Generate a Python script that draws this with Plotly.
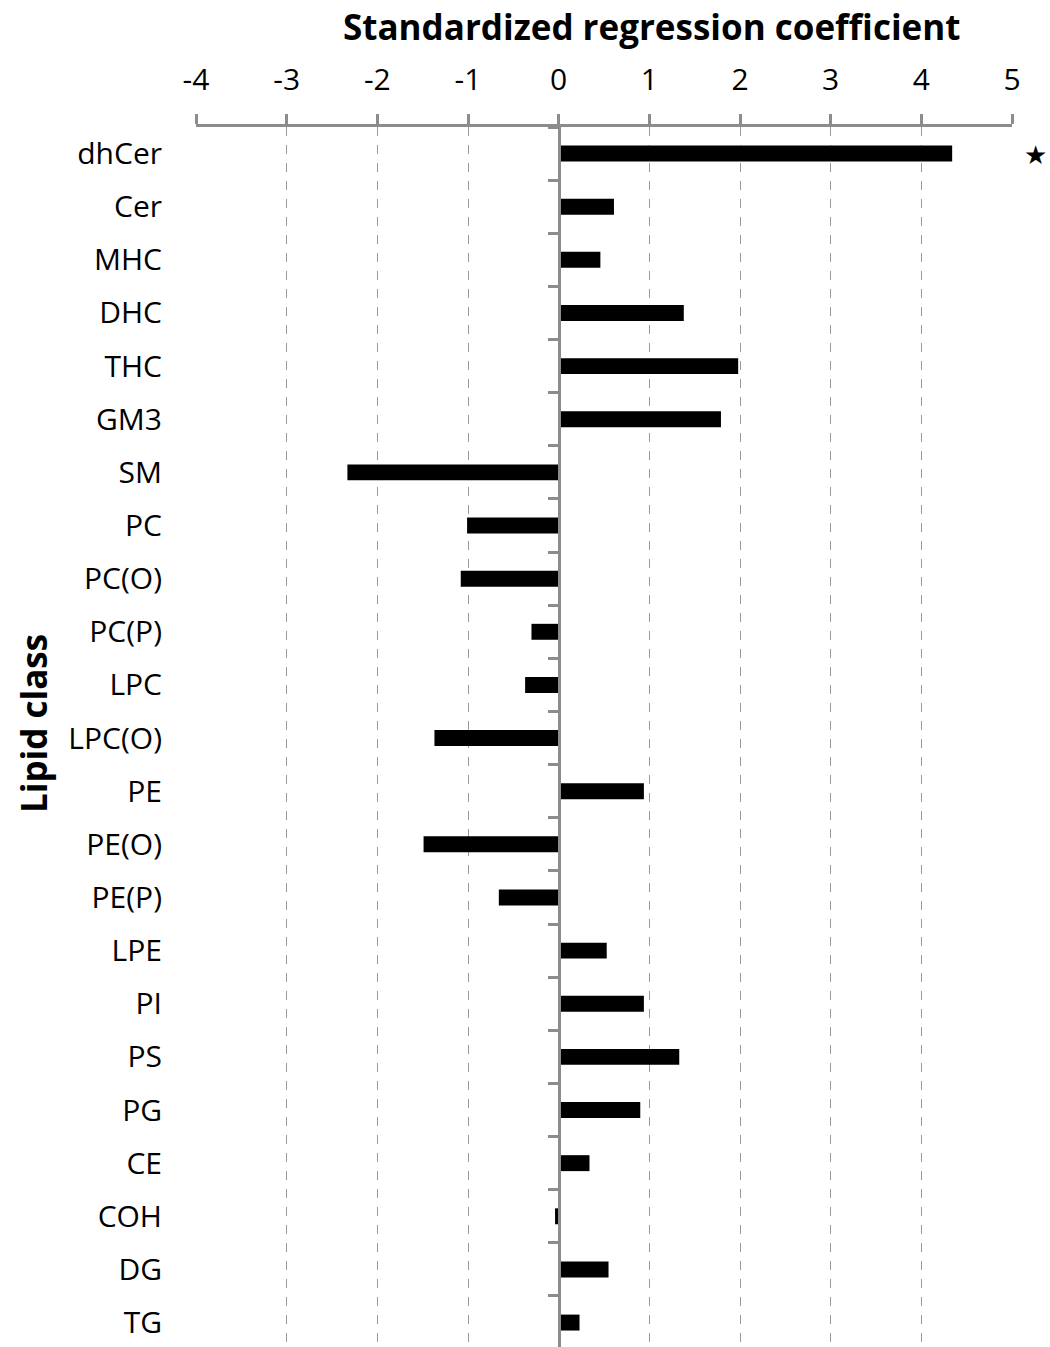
import plotly.graph_objects as go

categories = ["dhCer", "Cer", "MHC", "DHC", "THC", "GM3", "SM", "PC", "PC(O)", "PC(P)",
              "LPC", "LPC(O)", "PE", "PE(O)", "PE(P)", "LPE", "PI", "PS", "PG", "CE",
              "COH", "DG", "TG"]
values = [4.34, 0.61, 0.46, 1.38, 1.98, 1.79, -2.33, -1.01, -1.08, -0.30,
          -0.37, -1.37, 0.94, -1.49, -0.66, 0.53, 0.94, 1.33, 0.90, 0.34,
          -0.04, 0.55, 0.23]
x_ticks = [-4, -3, -2, -1, 0, 1, 2, 3, 4, 5]
x_ticktext = ["-4", "-3", "-2", "-1", "0", "1", "2", "3", "4", "5"]
significant = ["dhCer"]

FONT = "Open Sans"
GRAY = "#8c8c8c"

fig = go.Figure()
fig.add_trace(go.Bar(
    x=values, y=categories, orientation="h", width=0.3,
    marker=dict(color="black", line=dict(width=0)),
    xaxis="x", yaxis="y", showlegend=False,
))
# invisible copy on the free axis that carries the zero-line ticks
fig.add_trace(go.Bar(
    x=values, y=categories, orientation="h", width=0.3, opacity=0,
    marker=dict(color="black"), xaxis="x", yaxis="y2", showlegend=False,
    hoverinfo="skip",
))

n = len(categories)
yrange = [n - 0.54, -0.5]

fig.update_layout(
    width=1050, height=1347,
    margin=dict(l=196, r=38, t=127, b=0),
    paper_bgcolor="white", plot_bgcolor="white",
    font=dict(family=FONT, color="black"),
    xaxis=dict(
        side="top", range=[-4, 5], tickvals=x_ticks, ticktext=x_ticktext,
        showline=True, linecolor=GRAY, linewidth=2.5,
        ticks="outside", ticklen=10, tickwidth=2.5, tickcolor=GRAY,
        tickfont=dict(size=30, family=FONT, color="black"),
        ticklabelstandoff=12,
        showgrid=True, gridcolor="#9a9a9a", gridwidth=1.3, griddash="dash",
        zeroline=False,
    ),
    yaxis=dict(
        type="category", categoryorder="array", categoryarray=categories,
        range=yrange, showgrid=False, showline=False, ticks="",
        tickfont=dict(size=30, family=FONT, color="black"),
        ticklabelstandoff=33,
    ),
    yaxis2=dict(
        type="category", categoryorder="array", categoryarray=categories,
        range=yrange, overlaying="y", anchor="free", position=(0 - (-4)) / (5 - (-4)),
        showline=True, linecolor=GRAY, linewidth=2.5,
        ticks="outside", ticklen=10, tickwidth=2.5, tickcolor=GRAY,
        tickson="boundaries", showticklabels=False, showgrid=False, side="left",
    ),
)

fig.add_annotation(
    text="<b>Standardized regression coefficient</b>",
    xref="paper", yref="paper", x=(651 - 196) / 816, y=1 + (127 - 27) / 1220,
    xanchor="center", yanchor="middle", showarrow=False,
    font=dict(size=35, family=FONT, color="black"),
)
fig.add_annotation(
    text="<b>Lipid class</b>", textangle=-90,
    xref="paper", yref="paper", x=(33 - 196) / 816, y=1 - (724 - 127) / 1220,
    xanchor="center", yanchor="middle", showarrow=False,
    font=dict(size=35, family=FONT, color="black"),
)
for c in significant:
    fig.add_annotation(
        text="★", xref="paper", yref="y", x=(1035 - 196) / 816, y=c,
        xanchor="center", yanchor="middle", showarrow=False,
        font=dict(size=26, color="black"),
    )

fig.write_html("out.html", config={"displayModeBar": False},
               post_script="document.body.style.margin='0';")
